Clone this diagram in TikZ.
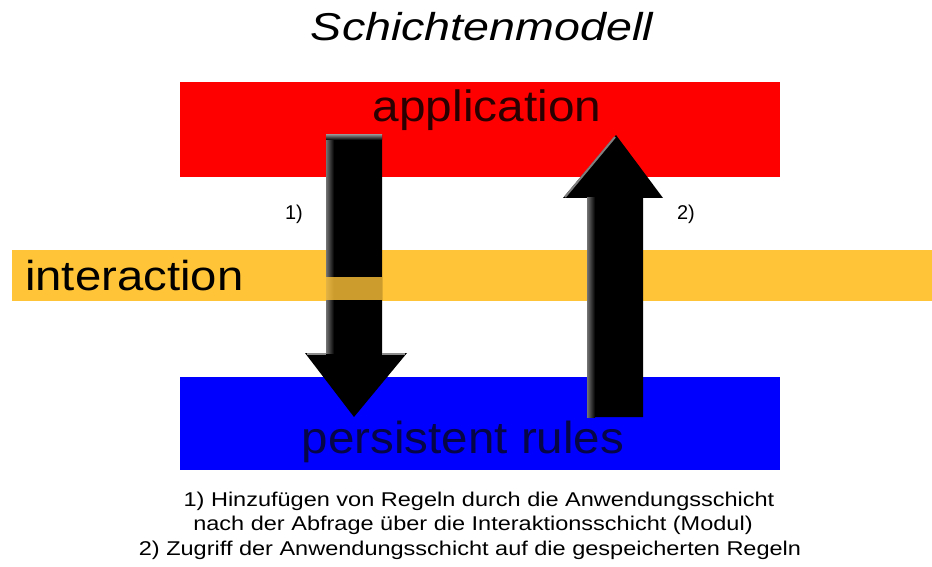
\documentclass[tikz,border=0pt]{standalone}
\usepackage{fontspec}
\setmainfont{Liberation Sans}
\usetikzlibrary{calc}
\definecolor{layerred}{RGB}{255,0,0}
\definecolor{layeryellow}{RGB}{255,196,56}
\definecolor{layerblue}{RGB}{0,0,255}
\definecolor{apptext}{RGB}{42,0,0}
\definecolor{ruletext}{RGB}{6,6,70}
\newcommand{\stretchtext}[2]{\scalebox{#1}[1]{#2}}
\tikzset{
  layer/.style={draw=none},
  bigtext/.style={inner sep=0pt, anchor=base, font=\fontsize{44}{50}\selectfont},
  smalltext/.style={inner sep=0pt, anchor=base, font=\fontsize{20}{22}\selectfont},
  arrowbody/.style={fill=black, draw=none},
  bevel/.style={draw=none, left color=black!55, right color=black}
}
\begin{document}
\begin{tikzpicture}[x=1bp, y=-1bp]
\useasboundingbox (0,0) rectangle (932,567);
\fill[white] (0,0) rectangle (932,567);

% title
\node[inner sep=0pt, anchor=base, font=\fontsize{39}{44}\selectfont\itshape] (title) at (482,41)
  {\stretchtext{1.2}{Schichtenmodell}};

% layers
\fill[layer, layerred] (180,82) rectangle (780,177);
\fill[layer, layeryellow] (12,250) rectangle (932,301);
\fill[layer, layerblue] (180,377) rectangle (780,470);

% down arrow (1)
\fill[arrowbody] (326,135) -- (382,135) -- (382,353) -- (407,353) -- (354,417)
  -- (305,353) -- (326,353) -- cycle;
\shade[bevel] (326,137) rectangle (334,353);
\shade[top color=black!50, bottom color=black] (326,135) rectangle (382,140);
\draw[black!45, line width=1.5] (307,354) -- (326,354);
\draw[black!45, line width=1.5] (382,354) -- (405,354);
% interaction layer showing through the lower part of the shaft
\fill[layeryellow, opacity=0.8] (326,277) rectangle (382,300);

% up arrow (2)
\fill[arrowbody] (587,417) -- (643,417) -- (643,198) -- (663,198) -- (616,135)
  -- (563,198) -- (587,198) -- cycle;
\shade[bevel] (587,198) rectangle (595,417);
\draw[black!50, line width=2] (565,197) -- (615,137);

% layer labels
\node[bigtext, text=apptext] (application) at (487,122) {\stretchtext{1.09}{application}};
\node[bigtext, anchor=base west, font=\fontsize{42}{48}\selectfont, text=black] (interaction) at (25,290)
  {\stretchtext{1.13}{interaction}};
\node[bigtext, text=ruletext, font=\fontsize{45}{50}\selectfont] (rules) at (463,453)
  {\stretchtext{1.06}{persistent rules}};

% arrow markers
\node[smalltext] (m1) at (294,220) {1)};
\node[smalltext] (m2) at (686,220) {2)};

% legend
\node[smalltext] (l1) at (479,506)
  {\stretchtext{1.18}{1) Hinzufügen von Regeln durch die Anwendungsschicht}};
\node[smalltext] (l2) at (473,530)
  {\stretchtext{1.18}{nach der Abfrage über die Interaktionsschicht (Modul)}};
\node[smalltext] (l3) at (470,555)
  {\stretchtext{1.18}{2) Zugriff der Anwendungsschicht auf die gespeicherten Regeln}};
\end{tikzpicture}
\end{document}
